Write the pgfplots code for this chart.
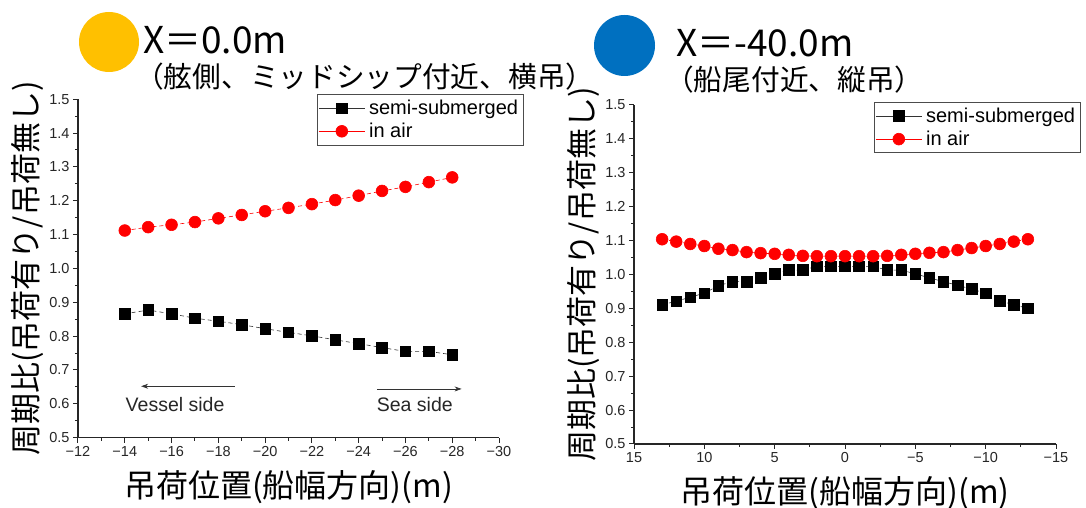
\documentclass[border=0pt]{standalone}
\usepackage{pgfplots}
\pgfplotsset{compat=1.18}
\usepackage{pgfplotstable}
\usepackage{fontspec}
\usetikzlibrary{arrows.meta}
\setmainfont{Liberation Sans}
\newfontfamily\jp{Noto Sans CJK JP}

\definecolor{titleorange}{HTML}{FFC000}
\definecolor{titleblue}{HTML}{0070C0}
\definecolor{airred}{HTML}{FF0000}

% X = 0.0 m : load moved outward from the ship side
\pgfplotstableread{
x y
-14 0.866
-15 0.877
-16 0.866
-17 0.853
-18 0.844
-19 0.834
-20 0.822
-21 0.811
-22 0.801
-23 0.789
-24 0.778
-25 0.766
-26 0.755
-27 0.755
-28 0.745
}\midsemi
\pgfplotstableread{
x y
-14 1.112
-15 1.122
-16 1.129
-17 1.137
-18 1.148
-19 1.158
-20 1.169
-21 1.179
-22 1.190
-23 1.202
-24 1.215
-25 1.229
-26 1.241
-27 1.255
-28 1.269
}\midair

% X = -40.0 m : load moved across the stern
\pgfplotstableread{
x y
13 0.911
12 0.921
11 0.933
10 0.945
9 0.967
8 0.979
7 0.979
6 0.990
5 1.002
4 1.013
3 1.013
2 1.024
1 1.024
0 1.024
-1 1.024
-2 1.024
-3 1.013
-4 1.013
-5 1.002
-6 0.990
-7 0.979
-8 0.968
-9 0.957
-10 0.945
-11 0.922
-12 0.911
-13 0.900
}\sternsemi
\pgfplotstableread{
x y
13 1.104
12 1.097
11 1.090
10 1.084
9 1.076
8 1.072
7 1.066
6 1.063
5 1.061
4 1.058
3 1.055
2 1.054
1 1.054
0 1.054
-1 1.054
-2 1.054
-3 1.055
-4 1.058
-5 1.061
-6 1.064
-7 1.066
-8 1.072
-9 1.078
-10 1.084
-11 1.090
-12 1.097
-13 1.104
}\sternair

\pgfplotsset{
  panel/.style={
    scale only axis, width=421pt, height=338.5pt,
    x dir=reverse,
    ymin=0.5, ymax=1.5,
    axis lines*=left,
    axis line style={line width=1.1pt, black!85},
    tick align=outside,
    major tick length=5pt, minor tick length=3pt,
    every tick/.style={black!85, line width=1pt},
    ytick={0.5,0.6,0.7,0.8,0.9,1.0,1.1,1.2,1.3,1.4,1.5},
    yticklabels={0.5,0.6,0.7,0.8,0.9,1.0,1.1,1.2,1.3,1.4,1.5},
    minor y tick num=1, minor x tick num=1,
    tick label style={font=\fontsize{14.5}{14.5}\selectfont, black!85},
    clip=false,
    xlabel={吊荷位置(船幅方向)(m)},
    xlabel style={font=\jp\fontsize{32}{32}\selectfont,
      at={(axis description cs:0.5,-0.146)}, anchor=center},
    ylabel={周期比(吊荷有り/吊荷無し)},
    ylabel style={font=\jp\fontsize{31}{31}\selectfont,
      at={(axis description cs:-0.12,0.5)}, anchor=center},
    legend cell align=left,
    legend image code/.code={%
      \draw[mark repeat=2,mark phase=2,#1,solid]
        plot coordinates {(0pt,0pt) (23pt,0pt) (46pt,0pt)};},
    legend style={anchor=north west, draw=black!70, line width=0.8pt,
      fill=white, font=\fontsize{20}{23}\selectfont,
      inner xsep=1pt, inner ysep=2pt, row sep=0pt,
      nodes={inner xsep=4pt, inner ysep=3.6pt}},
  },
  semi/.style={black!80, line width=0.6pt, dash pattern=on 4pt off 3pt,
    mark=square*, mark size=5.3pt, mark options={solid, fill=black, draw=black}},
  air/.style={airred, line width=0.6pt, dash pattern=on 4pt off 3pt,
    mark=*, mark size=5.9pt, mark options={solid, fill=airred, draw=airred}},
}

\begin{document}
\begin{tikzpicture}
\useasboundingbox (0pt,0pt) rectangle (1086pt,508pt);

% panel titles
\fill[titleorange] (109pt,466pt) circle (30pt);
\node[anchor=west, inner sep=0pt, font=\jp\fontsize{37}{37}\selectfont]
  at (143pt,468pt) {X＝0.0m};
\node[anchor=west, inner sep=0pt, font=\jp\fontsize{28.7}{28.7}\selectfont]
  at (135pt,431pt) {（舷側、ミッドシップ付近、横吊）};

\fill[titleblue] (624.5pt,462.5pt) circle (30.5pt);
\node[anchor=west, inner sep=0pt, font=\jp\fontsize{37}{37}\selectfont]
  at (676pt,465pt) {X＝-40.0m};
\node[anchor=west, inner sep=0pt, font=\jp\fontsize{28.7}{28.7}\selectfont]
  at (665pt,428pt) {（船尾付近、縦吊）};

% left panel
\begin{axis}[panel,
  at={(78pt,70.3pt)}, anchor=south west,
  xmin=-30, xmax=-12,
  xtick={-12,-14,-16,-18,-20,-22,-24,-26,-28,-30},
  xticklabels={−12,−14,−16,−18,−20,−22,−24,−26,−28,−30},
  legend style={at={(axis description cs:0.568,1.015)}},
]
\addplot[semi] table {\midsemi};
\addlegendentry{semi-submerged}
\addplot[air] table {\midair};
\addlegendentry{in air}
\draw[-{Stealth[length=7pt,width=5pt]}, line width=0.8pt, black!80]
  (axis cs:-18.7,0.652) -- (axis cs:-14.7,0.652);
\node[font=\fontsize{19.5}{20}\selectfont, black!85] at (axis cs:-16.15,0.598) {Vessel side};
\draw[-{Stealth[length=7pt,width=5pt]}, line width=0.8pt, black!80]
  (axis cs:-24.8,0.644) -- (axis cs:-28.4,0.644);
\node[font=\fontsize{19.5}{20}\selectfont, black!85] at (axis cs:-26.4,0.598) {Sea side};
\end{axis}

% right panel
\begin{axis}[panel,
  at={(634pt,64pt)}, anchor=south west,
  width=422pt, height=339pt,
  xmin=-15, xmax=15,
  xtick={15,10,5,0,-5,-10,-15},
  xticklabels={15,10,5,0,−5,−10,−15},
  legend style={at={(axis description cs:0.569,1.009)}},
]
\addplot[semi] table {\sternsemi};
\addlegendentry{semi-submerged}
\addplot[air] table {\sternair};
\addlegendentry{in air}
\end{axis}
\end{tikzpicture}
\end{document}
